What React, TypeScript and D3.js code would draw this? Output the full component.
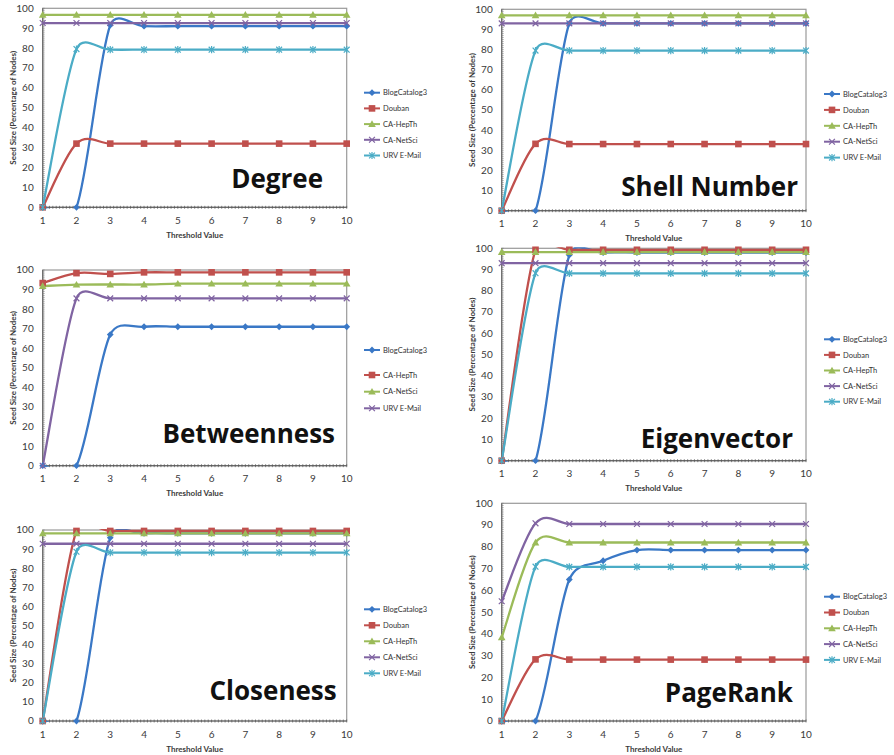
import React from "react";
import * as d3 from "d3";

// Threshold values on the x axis and the seed-size tick marks on the y axis
const thresholds = [1, 2, 3, 4, 5, 6, 7, 8, 9, 10];
const yTickValues = [0, 10, 20, 30, 40, 50, 60, 70, 80, 90, 100];

// Degree
const degreeBlogCatalog3 = [0, 0, 91.5, 91, 91, 91, 91, 91, 91, 91];
const degreeDouban = [0, 32, 32, 32, 32, 32, 32, 32, 32, 32];
const degreeHepTh = [96.7, 96.7, 96.7, 96.7, 96.7, 96.7, 96.7, 96.7, 96.7, 96.7];
const degreeNetSci = [92.6, 92.6, 92.6, 92.6, 92.6, 92.6, 92.6, 92.6, 92.6, 92.6];
const degreeEmail = [0, 79.5, 79.2, 79.2, 79.2, 79.2, 79.2, 79.2, 79.2, 79.2];

// Shell Number
const shellBlogCatalog3 = [0, 0, 93, 93, 93, 93, 93, 93, 93, 93];
const shellDouban = [0, 33.2, 33.1, 33.1, 33.1, 33.1, 33.1, 33.1, 33.1, 33.1];
const shellHepTh = [97, 97, 97, 97, 97, 97, 97, 97, 97, 97];
const shellNetSci = [93, 93, 93, 93, 93, 93, 93, 93, 93, 93];
const shellEmail = [0, 79.5, 79.5, 79.5, 79.5, 79.5, 79.5, 79.5, 79.5, 79.5];

// Betweenness
const betweennessBlogCatalog3 = [0, 0, 67, 71, 71, 71, 71, 71, 71, 71];
const betweennessHepTh = [93.3, 98.4, 98, 98.8, 98.8, 98.8, 98.8, 98.8, 98.8, 98.8];
const betweennessNetSci = [91.8, 92.5, 92.6, 92.6, 93, 93, 93, 93, 93, 93];
const betweennessEmail = [0, 85.5, 85.5, 85.5, 85.5, 85.5, 85.5, 85.5, 85.5, 85.5];

// Eigenvector
const eigenBlogCatalog3 = [0, 0, 96.8, 98, 98, 98, 98, 98, 98, 98];
const eigenDouban = [0, 99.3, 99.3, 99.3, 99.3, 99.3, 99.3, 99.3, 99.3, 99.3];
const eigenHepTh = [98.2, 98.2, 98.2, 98.2, 98.2, 98.2, 98.2, 98.2, 98.2, 98.2];
const eigenNetSci = [93, 93, 93, 93, 93, 93, 93, 93, 93, 93];
const eigenEmail = [0, 88.3, 88.2, 88.2, 88.2, 88.2, 88.2, 88.2, 88.2, 88.2];

// Closeness
const closenessBlogCatalog3 = [0, 0, 96, 98.2, 98.2, 98.2, 98.2, 98.2, 98.2, 98.2];
const closenessDouban = [0, 99.5, 99.5, 99.5, 99.5, 99.5, 99.5, 99.5, 99.5, 99.5];
const closenessHepTh = [98.2, 98.2, 98.2, 98.2, 98.2, 98.2, 98.2, 98.2, 98.2, 98.2];
const closenessNetSci = [92.8, 92.8, 92.8, 92.8, 92.8, 92.8, 92.8, 92.8, 92.8, 92.8];
const closenessEmail = [0, 88.6, 88.2, 88.2, 88.2, 88.2, 88.2, 88.2, 88.2, 88.2];

// PageRank
const pageRankBlogCatalog3 = [0, 0, 65, 73.6, 78.5, 78.5, 78.5, 78.5, 78.5, 78.5];
const pageRankDouban = [0, 28.3, 28.2, 28.2, 28.2, 28.2, 28.2, 28.2, 28.2, 28.2];
const pageRankHepTh = [38.4, 82, 82, 82, 82, 82, 82, 82, 82, 82];
const pageRankNetSci = [55, 90.8, 90.5, 90.5, 90.5, 90.5, 90.5, 90.5, 90.5, 90.5];
const pageRankEmail = [0, 70.9, 70.8, 70.8, 70.8, 70.8, 70.8, 70.8, 70.8, 70.8];

type Series = { name: string; values: number[] };

const degreeSeries: Series[] = [
  { name: "BlogCatalog3", values: degreeBlogCatalog3 },
  { name: "Douban", values: degreeDouban },
  { name: "CA-HepTh", values: degreeHepTh },
  { name: "CA-NetSci", values: degreeNetSci },
  { name: "URV E-Mail", values: degreeEmail },
];
const shellSeries: Series[] = [
  { name: "BlogCatalog3", values: shellBlogCatalog3 },
  { name: "Douban", values: shellDouban },
  { name: "CA-HepTh", values: shellHepTh },
  { name: "CA-NetSci", values: shellNetSci },
  { name: "URV E-Mail", values: shellEmail },
];
const betweennessSeries: Series[] = [
  { name: "BlogCatalog3", values: betweennessBlogCatalog3 },
  { name: "CA-HepTh", values: betweennessHepTh },
  { name: "CA-NetSci", values: betweennessNetSci },
  { name: "URV E-Mail", values: betweennessEmail },
];
const eigenSeries: Series[] = [
  { name: "BlogCatalog3", values: eigenBlogCatalog3 },
  { name: "Douban", values: eigenDouban },
  { name: "CA-HepTh", values: eigenHepTh },
  { name: "CA-NetSci", values: eigenNetSci },
  { name: "URV E-Mail", values: eigenEmail },
];
const closenessSeries: Series[] = [
  { name: "BlogCatalog3", values: closenessBlogCatalog3 },
  { name: "Douban", values: closenessDouban },
  { name: "CA-HepTh", values: closenessHepTh },
  { name: "CA-NetSci", values: closenessNetSci },
  { name: "URV E-Mail", values: closenessEmail },
];
const pageRankSeries: Series[] = [
  { name: "BlogCatalog3", values: pageRankBlogCatalog3 },
  { name: "Douban", values: pageRankDouban },
  { name: "CA-HepTh", values: pageRankHepTh },
  { name: "CA-NetSci", values: pageRankNetSci },
  { name: "URV E-Mail", values: pageRankEmail },
];

// Series styling by position within each chart
const seriesColors = ["#3A78C6", "#C0504D", "#9BBB59", "#8064A2", "#4BACC6"];
const seriesMarkers = ["diamond", "square", "triangle", "x", "star"];

type Panel = {
  id: string;
  title: string;
  series: Series[];
  left: number;
  right: number;
  top: number;
  bottom: number;
  legendX: number;
  legendY: number[];
  titleRight: number;
  titleBaseline: number;
  yTitleX: number;
};

const panels: Panel[] = [
  {
    id: "degree", title: "Degree", series: degreeSeries,
    left: 42.7, right: 346.7, top: 8.3, bottom: 207.3,
    legendX: 364, legendY: [92.7, 108.4, 124.1, 139.8, 155.5],
    titleRight: 323, titleBaseline: 188, yTitleX: 13,
  },
  {
    id: "shell", title: "Shell Number", series: shellSeries,
    left: 501.7, right: 806, top: 9.3, bottom: 210.7,
    legendX: 824, legendY: [94, 109.9, 125.8, 141.7, 157.6],
    titleRight: 798, titleBaseline: 196, yTitleX: 472,
  },
  {
    id: "betweenness", title: "Betweenness", series: betweennessSeries,
    left: 42.7, right: 346.7, top: 270, bottom: 465.7,
    legendX: 364, legendY: [350, 375, 391.7, 408.3],
    titleRight: 335, titleBaseline: 443, yTitleX: 13,
  },
  {
    id: "eigenvector", title: "Eigenvector", series: eigenSeries,
    left: 501.7, right: 806, top: 248.3, bottom: 460.7,
    legendX: 824, legendY: [339.3, 354.9, 370.5, 386.1, 401.7],
    titleRight: 793, titleBaseline: 448, yTitleX: 472,
  },
  {
    id: "closeness", title: "Closeness", series: closenessSeries,
    left: 42.7, right: 346.7, top: 530, bottom: 721,
    legendX: 364, legendY: [609.3, 625.3, 641.3, 657.3, 673.3],
    titleRight: 336.7, titleBaseline: 700, yTitleX: 13,
  },
  {
    id: "pagerank", title: "PageRank", series: pageRankSeries,
    left: 501.7, right: 806, top: 503.3, bottom: 721,
    legendX: 824, legendY: [596.7, 612.5, 628.3, 644.1, 659.9],
    titleRight: 793, titleBaseline: 701.7, yTitleX: 472,
  },
];

const FONT = "Lato, 'Open Sans', sans-serif";
const TITLE_FONT = "'Open Sans', Lato, sans-serif";

// Spreadsheet-style smoothed line: Bezier segments whose control vectors follow
// the neighbouring points, limited to half the length of the segment they sit on.
function smoothPath(pts: [number, number][]): string {
  const p = d3.path();
  const n = pts.length;
  const tangent = (i: number): [number, number] => {
    const a = pts[Math.max(0, i - 1)];
    const b = pts[Math.min(n - 1, i + 1)];
    return [(b[0] - a[0]) / 6, (b[1] - a[1]) / 6];
  };
  const limit = (t: [number, number], seg: number): [number, number] => {
    const len = Math.hypot(t[0], t[1]);
    const max = seg * 0.5;
    if (len <= max || len === 0) return t;
    const k = max / len;
    return [t[0] * k, t[1] * k];
  };
  p.moveTo(pts[0][0], pts[0][1]);
  for (let i = 0; i < n - 1; i++) {
    const a = pts[i];
    const b = pts[i + 1];
    const seg = Math.hypot(b[0] - a[0], b[1] - a[1]);
    const t0 = limit(tangent(i), seg);
    const t1 = limit(tangent(i + 1), seg);
    p.bezierCurveTo(a[0] + t0[0], a[1] + t0[1], b[0] - t1[0], b[1] - t1[1], b[0], b[1]);
  }
  return p.toString();
}

function Marker({ kind, x, y, color }: { kind: string; x: number; y: number; color: string }) {
  const s = 3.4;
  if (kind === "diamond") {
    return <path d={`M${x},${y - s}L${x + s},${y}L${x},${y + s}L${x - s},${y}Z`} fill={color} />;
  }
  if (kind === "square") {
    return <rect x={x - 3.3} y={y - 3.3} width={6.6} height={6.6} fill={color} />;
  }
  if (kind === "triangle") {
    return <path d={`M${x},${y - 3.8}L${x + 3.8},${y + 2.9}L${x - 3.8},${y + 2.9}Z`} fill={color} />;
  }
  const k = 2.9;
  const cross = `M${x - k},${y - k}L${x + k},${y + k}M${x - k},${y + k}L${x + k},${y - k}`;
  if (kind === "x") {
    return <path d={cross} stroke={color} strokeWidth={1.2} fill="none" />;
  }
  return <path d={`${cross}M${x},${y - 3.6}L${x},${y + 3.6}`} stroke={color} strokeWidth={1.2} fill="none" />;
}

function ChartPanel({ p }: { p: Panel }) {
  const x = d3.scaleLinear().domain([1, 10]).range([p.left, p.right]);
  const y = d3.scaleLinear().domain([0, 100]).range([p.bottom, p.top]);

  const xMinor = d3.range(1, 10.001, 0.1);
  const yMinor = d3.range(0, 100.001, 1);
  const midX = (p.left + p.right) / 2;
  const midY = (p.top + p.bottom) / 2;
  const clipId = `clip-${p.id}`;

  return (
    <g>
      <defs>
        <clipPath id={clipId}>
          <rect x={p.left} y={p.top - 1} width={p.right - p.left} height={p.bottom - p.top + 2} />
        </clipPath>
      </defs>
      {/* plot area frame */}
      <rect x={p.left} y={p.top} width={p.right - p.left} height={p.bottom - p.top}
        fill="#fff" stroke="#9a9a9a" strokeWidth={1.2} />
      {/* y axis with minor ticks */}
      <line x1={p.left} x2={p.left} y1={p.top} y2={p.bottom} stroke="#6b6b6b" strokeWidth={1.2} />
      {yMinor.map((v) => (
        <line key={`ym${v}`} x1={p.left} x2={p.left + 2} y1={y(v)} y2={y(v)} stroke="#7a7a7a" strokeWidth={0.6} />
      ))}
      {yTickValues.map((v) => (
        <text key={`yt${v}`} x={p.left - 9} y={y(v) + 3.4} textAnchor="end" fontSize={10}
          fontFamily={FONT} fill="#3a3a3a">{v}</text>
      ))}
      {/* x axis with minor ticks */}
      <line x1={p.left} x2={p.right} y1={p.bottom} y2={p.bottom} stroke="#6b6b6b" strokeWidth={1.2} />
      {xMinor.map((v, i) => (
        <line key={`xm${i}`} x1={x(v)} x2={x(v)} y1={p.bottom - 1.5} y2={p.bottom + 1.5} stroke="#555" strokeWidth={0.7} />
      ))}
      {thresholds.map((v) => (
        <text key={`xt${v}`} x={x(v)} y={p.bottom + 16.5} textAnchor="middle" fontSize={10}
          fontFamily={FONT} fill="#3a3a3a">{v}</text>
      ))}
      <text x={midX} y={p.bottom + 30.5} textAnchor="middle" fontSize={8} fontWeight="bold"
        fontFamily={FONT} fill="#3a3a3a">Threshold Value</text>
      <text transform={`translate(${p.yTitleX},${midY}) rotate(-90)`} textAnchor="middle" dy="0.35em"
        fontSize={8} fontWeight="bold" fontFamily={FONT} fill="#3a3a3a">
        Seed Size (Percentage of Nodes)
      </text>
      {/* series lines and markers */}
      <g clipPath={`url(#${clipId})`}>
        {p.series.map((s, i) => (
          <path key={`l${s.name}`}
            d={smoothPath(s.values.map((v, j) => [x(thresholds[j]), y(v)] as [number, number]))}
            fill="none" stroke={seriesColors[i]} strokeWidth={2.3} strokeLinejoin="round" />
        ))}
      </g>
      {p.series.map((s, i) => (
        <g key={`m${s.name}`}>
          {s.values.map((v, j) => (
            <Marker key={j} kind={seriesMarkers[i]} x={x(thresholds[j])} y={y(v)} color={seriesColors[i]} />
          ))}
        </g>
      ))}
      {/* chart title inside the plot */}
      <text x={p.titleRight} y={p.titleBaseline} textAnchor="end" fontSize={26} fontWeight="bold"
        fontFamily={TITLE_FONT} fill="#111">{p.title}</text>
      {/* legend */}
      {p.series.map((s, i) => (
        <g key={`lg${s.name}`}>
          <line x1={p.legendX} x2={p.legendX + 16} y1={p.legendY[i]} y2={p.legendY[i]}
            stroke={seriesColors[i]} strokeWidth={2} />
          <Marker kind={seriesMarkers[i]} x={p.legendX + 8} y={p.legendY[i]} color={seriesColors[i]} />
          <text x={p.legendX + 19} y={p.legendY[i] + 2.7} fontSize={7.5} fontFamily={FONT} fill="#333">
            {s.name}
          </text>
        </g>
      ))}
    </g>
  );
}

export default function App() {
  return (
    <svg width={894} height={755} style={{ position: "absolute", left: 0, top: 0, background: "#fff" }}>
      <rect width={894} height={755} fill="#fff" />
      {panels.map((p) => (
        <ChartPanel key={p.id} p={p} />
      ))}
    </svg>
  );
}
